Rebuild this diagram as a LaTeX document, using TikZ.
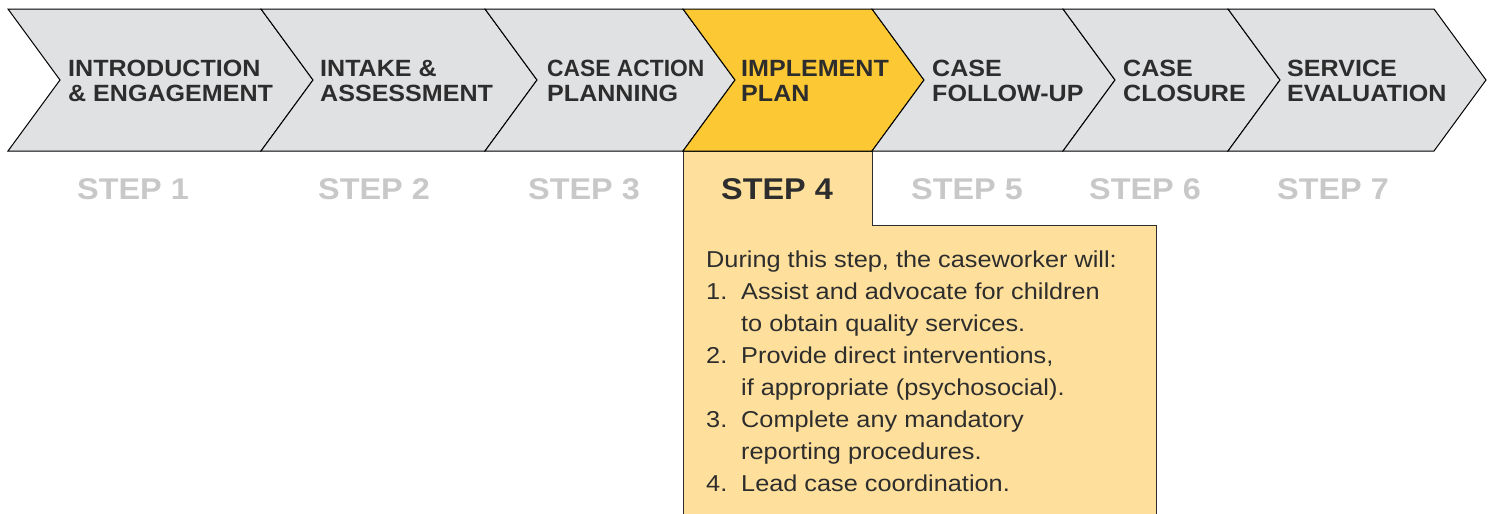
\documentclass[tikz,border=0pt]{standalone}
\usepackage{fontspec}
\setmainfont[FakeStretch=1.067]{Liberation Sans}
\newfontfamily\stepfont[FakeStretch=1.08]{Liberation Sans}
\newfontfamily\bodyfont[FakeStretch=1.1]{Liberation Sans}
\usepackage{tikz}
\definecolor{chevgray}{RGB}{224,225,227}
\definecolor{stepyellow}{RGB}{252,200,52}
\definecolor{boxyellow}{RGB}{254,224,156}
\definecolor{textdark}{RGB}{45,45,45}
\definecolor{steplight}{RGB}{200,200,201}
\tikzset{chevlabel/.style={anchor=west, inner sep=0pt, align=left, text=textdark,
         font=\bfseries\fontsize{23.5}{25}\selectfont},
         steplabel/.style={inner sep=0pt, text=steplight,
         font=\stepfont\bfseries\fontsize{30}{30}\selectfont},
         bodytext/.style={anchor=base west, inner sep=0pt, text=textdark,
         font=\bodyfont\fontsize{23}{32}\selectfont}}

\begin{document}
\begin{tikzpicture}[x=1pt,y=-1pt]
\useasboundingbox (0,0) rectangle (1492,514);

% box under step 4
\fill [boxyellow] (683,151) -- (872,151) -- (872,225) -- (1156,225) -- (1156,514) -- (683,514) -- cycle;
\draw [textdark, line width=1pt] (683,514) -- (683,151) -- (872,151) -- (872,225) -- (1156,225) -- (1156,514);

% chevrons
\foreach \a/\b/\c in {8/261/chevgray, 261/485/chevgray, 485/683/chevgray, 683/872/stepyellow,
                      872/1063/chevgray, 1063/1228/chevgray, 1228/1434/chevgray}
  \draw [fill=\c, line width=1pt, line join=miter]
    (\a,9) -- (\b,9) -- (\b+52,80) -- (\b,151) -- (\a,151) -- (\a+52,80) -- cycle;

\node [chevlabel] (intro) at (68,81) {INTRODUCTION\\\& ENGAGEMENT};
\node [chevlabel] (intake) at (320,81) {INTAKE \&\\ASSESSMENT};
\node [chevlabel] (action) at (547,81) {\scalebox{0.91}[1]{CASE ACTION}\\PLANNING};
\node [chevlabel] (implement) at (741,81) {IMPLEMENT\\PLAN};
\node [chevlabel] (followup) at (932,81) {CASE\\FOLLOW-UP};
\node [chevlabel] (closure) at (1123,81) {CASE\\CLOSURE};
\node [chevlabel] (evaluation) at (1287,81) {SERVICE\\EVALUATION};

% step numbers
\node [steplabel] (s1) at (133,189) {STEP 1};
\node [steplabel] (s2) at (374,189) {STEP 2};
\node [steplabel] (s3) at (584,189) {STEP 3};
\node [steplabel, text=textdark] (s4) at (777,189) {STEP 4};
\node [steplabel] (s5) at (967,189) {STEP 5};
\node [steplabel] (s6) at (1145,189) {STEP 6};
\node [steplabel] (s7) at (1333,189) {STEP 7};

% what happens in step 4
\node [bodytext] (intro4) at (706,267) {During this step, the caseworker will:};
\node [bodytext] (n1) at (706,299) {1.};
\node [bodytext] (t1) at (741,299) {Assist and advocate for children};
\node [bodytext] (t1b) at (741,331) {to obtain quality services.};
\node [bodytext] (n2) at (706,363) {2.};
\node [bodytext] (t2) at (741,363) {Provide direct interventions,};
\node [bodytext] (t2b) at (741,395) {if appropriate (psychosocial).};
\node [bodytext] (n3) at (706,427) {3.};
\node [bodytext] (t3) at (741,427) {Complete any mandatory};
\node [bodytext] (t3b) at (741,459) {reporting procedures.};
\node [bodytext] (n4) at (706,491) {4.};
\node [bodytext] (t4) at (741,491) {Lead case coordination.};

\end{tikzpicture}
\end{document}
